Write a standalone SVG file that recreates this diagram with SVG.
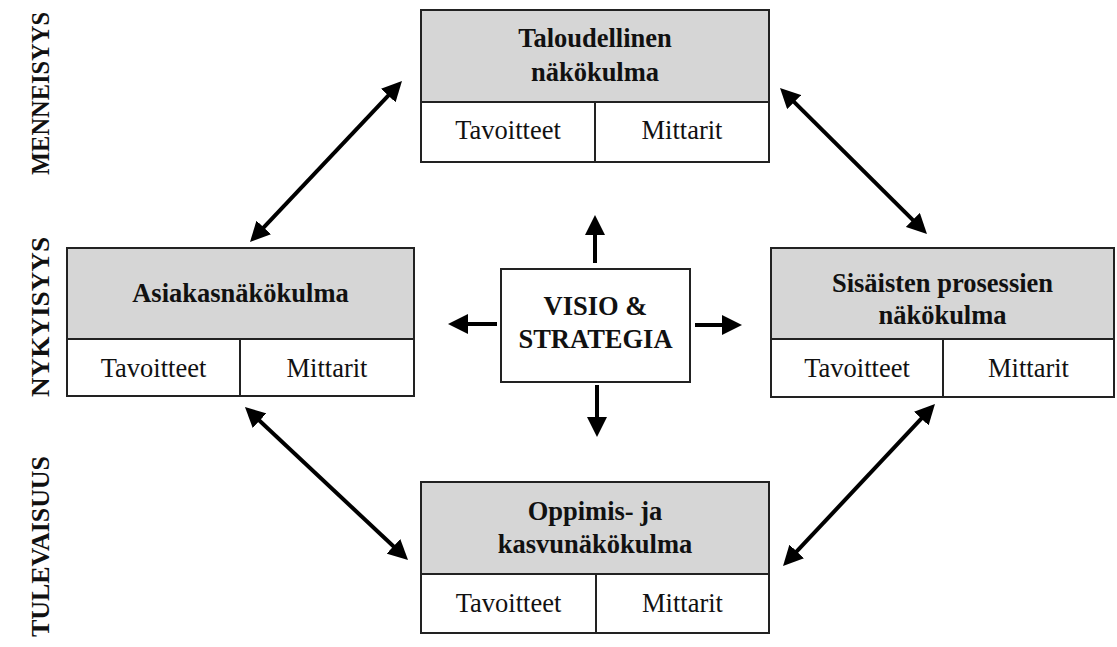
<svg xmlns="http://www.w3.org/2000/svg" width="1117" height="647" viewBox="0 0 1117 647">
<defs>
<style>
.box{fill:#fff;stroke:#222;stroke-width:2}
.hdr{fill:#d6d6d6;stroke:#222;stroke-width:2}
.div{stroke:#222;stroke-width:2}
.h{font-family:"Liberation Serif","Times New Roman",Times,"DejaVu Serif",serif;font-weight:bold;font-size:26.5px;fill:#111;text-anchor:middle}
.c{font-family:"Liberation Serif","Times New Roman",Times,"DejaVu Serif",serif;font-size:26.5px;fill:#111;text-anchor:middle}
.side{font-family:"Liberation Serif","Times New Roman",Times,"DejaVu Serif",serif;font-weight:bold;font-size:26px;fill:#111;text-anchor:middle}
.arr{stroke:#000;stroke-width:4;fill:none;marker-end:url(#ah)}
.darr{stroke:#000;stroke-width:4;fill:none;marker-start:url(#ah);marker-end:url(#ah)}
</style>
<marker id="ah" markerUnits="userSpaceOnUse" markerWidth="20" markerHeight="20" refX="12" refY="10" orient="auto-start-reverse" viewBox="0 0 20 20">
<path d="M0,0 L20,10 L0,20 z" fill="#000"/>
</marker>
</defs>
<rect width="1117" height="647" fill="#fff"/>

<g id="side-labels">
<text class="side" transform="translate(49,93.5) rotate(-90)" textLength="163" lengthAdjust="spacingAndGlyphs">MENNEISYYS</text>
<text class="side" transform="translate(49,317) rotate(-90)" textLength="160" lengthAdjust="spacingAndGlyphs">NYKYISYYS</text>
<text class="side" transform="translate(49,546.5) rotate(-90)" textLength="181" lengthAdjust="spacingAndGlyphs">TULEVAISUUS</text>
</g>

<g id="connectors">
<line class="darr" x1="255.5" y1="236.2" x2="396.5" y2="86.8"/>
<line class="darr" x1="785.7" y1="93.6" x2="921.3" y2="228.4"/>
<line class="darr" x1="250.8" y1="412.5" x2="402.2" y2="554.5"/>
<line class="darr" x1="929.5" y1="409.8" x2="788.5" y2="560.2"/>
<line class="arr" x1="595" y1="263" x2="595" y2="223"/>
<line class="arr" x1="695" y1="325" x2="734" y2="325"/>
<line class="arr" x1="597" y1="385" x2="597" y2="429"/>
<line class="arr" x1="497" y1="324" x2="456" y2="324"/>
</g>

<g id="taloudellinen">
<rect class="box" x="421" y="10" width="348" height="152"/>
<rect class="hdr" x="421" y="10" width="348" height="92"/>
<line class="div" x1="595" y1="102" x2="595" y2="162"/>
<text class="h" x="595" y="47">Taloudellinen</text>
<text class="h" x="595" y="81">näkökulma</text>
<text class="c" x="508" y="139">Tavoitteet</text>
<text class="c" x="682" y="139">Mittarit</text>
</g>

<g id="asiakas">
<rect class="box" x="67" y="248" width="347" height="148"/>
<rect class="hdr" x="67" y="248" width="347" height="91"/>
<line class="div" x1="240" y1="339" x2="240" y2="396"/>
<text class="h" x="240.5" y="302">Asiakasnäkökulma</text>
<text class="c" x="153.5" y="377">Tavoitteet</text>
<text class="c" x="327" y="377">Mittarit</text>
</g>

<g id="visio">
<rect class="box" x="501" y="269" width="189" height="113"/>
<text class="h" x="595.5" y="315">VISIO &amp;</text>
<text class="h" x="595.5" y="348">STRATEGIA</text>
</g>

<g id="sisaiset">
<rect class="box" x="771" y="248" width="343" height="149"/>
<rect class="hdr" x="771" y="248" width="343" height="91"/>
<line class="div" x1="943" y1="339" x2="943" y2="397"/>
<text class="h" x="942.5" y="292">Sisäisten prosessien</text>
<text class="h" x="942.5" y="324">näkökulma</text>
<text class="c" x="857" y="377">Tavoitteet</text>
<text class="c" x="1028.5" y="377">Mittarit</text>
</g>

<g id="oppimis">
<rect class="box" x="421" y="482" width="348" height="151"/>
<rect class="hdr" x="421" y="482" width="348" height="92"/>
<line class="div" x1="596" y1="574" x2="596" y2="633"/>
<text class="h" x="595" y="520">Oppimis- ja</text>
<text class="h" x="595" y="553">kasvunäkökulma</text>
<text class="c" x="508.5" y="612">Tavoitteet</text>
<text class="c" x="682.5" y="612">Mittarit</text>
</g>
</svg>
